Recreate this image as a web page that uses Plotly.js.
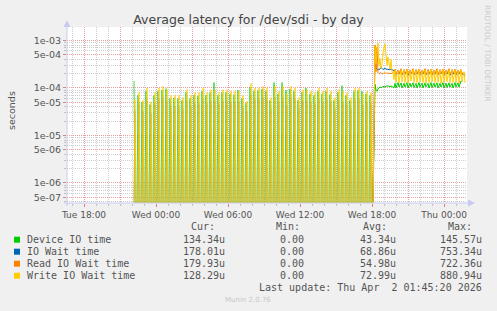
<!DOCTYPE html>
<html>
<head>
<meta charset="utf-8">
<script src="https://cdn.plot.ly/plotly-3.0.1.min.js"></script>
<style>html,body{margin:0;padding:0;background:#F0F0F0;}#chart{width:497px;height:311px;}</style>
</head>
<body>
<div id="chart"></div>
<script>
// ---------------- DATA (values in microseconds) ----------------
const seriesNames = ["Device IO time", "IO Wait time", "Read IO Wait time", "Write IO Wait time"];
const seriesColors = ["#00CC00", "#0066B3", "#FF8000", "#FFCC00"];

// Spiky period: one reading per 20 min, every 5-min sample, zero between readings
const spikyStart = "2026-03-31T22:10:00";
const sampleMinutes = 5;
const spikeEvery = 4;            // samples per spike period
const spikePhase = [0, 1, 1, 1]; // sample within period where each series is non-zero

const devicePeaks = [140,70,50,85,45,70,85,90,97,60, 62,60,55,80,60,70,68,85,70,80,
                     130,70,80,80,75,72,90,60,48,105, 85,88,95,85,55,130,75,130,90,95,
                     85,55,80,100,75,70,85,75,85,72, 55,80,112,70,55,85,88,85,75,70];
const ioWaitPeaks = [35,50,33,60,30,48,60,65,55,42, 42,42,38,56,42,48,48,60,48,55,
                     55,48,55,55,52,52,52,42,32,74, 60,60,65,60,38,65,52,65,45,65,
                     60,38,55,55,52,48,60,52,60,52, 38,56,52,48,38,60,60,45,52,48];
const readPeaks   = [30,45,30,55,28,44,55,60,50,38, 38,38,34,50,38,44,44,55,44,50,
                     50,44,50,50,47,47,47,38,29,68, 55,55,60,55,34,60,47,60,40,60,
                     55,34,50,50,47,44,55,47,55,47, 34,50,47,44,34,55,55,40,47,44];
const writePeaks  = [57,80,55,100,51,80,100,109,92,70, 70,70,63,93,70,80,80,100,80,92,
                     92,80,92,92,86,86,86,70,53,124, 100,100,109,100,63,109,86,109,75,109,
                     100,63,92,92,86,80,100,86,100,86, 63,93,86,80,63,100,100,75,86,80];

// Continuous period, every 5 minutes
const steadyStart = "2026-04-01T18:15:00";
const deviceSteady = [120,90,85,95,100,105,100,105,108,106,104,110,112,110,108,105,110,108,104,100,
  125,100,115,130,105,118,128,100,112,125,104,120,130,100,115,126,105,118,128,102,112,125,100,120,
  130,104,115,126,100,118,128,105,112,125,100,120,130,102,115,126,104,118,128,100,112,125,105,120,
  130,100,115,126,102,118,128,104,112,125,100,120,130,105,115,128,104,118,140,134];
const ioWaitSteady = [750,260,250,240,245,250,270,255,245,250,260,250,245,250,240,245,250,240,235,230,
  230,190,205,225,195,210,235,190,200,230,195,210,230,185,205,225,200,210,235,190,200,230,195,210,
  230,190,205,225,195,210,235,190,200,230,195,210,230,190,205,225,195,210,235,190,200,230,200,210,
  230,190,205,225,195,210,235,185,200,230,195,210,230,190,205,225,195,210,230,190,200,190,178];
const readSteady = [800,220,720,210,200,205,210,200,200,210,205,200,210,200,205,200,200,205,210,220,
  250,195,215,240,200,220,255,195,210,245,200,220,250,190,215,240,205,220,255,195,210,245,200,220,
  250,195,215,240,200,220,255,195,210,245,200,220,250,190,215,240,200,220,255,190,210,245,200,220,
  250,195,215,240,200,220,255,195,210,245,205,220,250,195,215,240,200,220,245,195,210,200,180];
const writeSteady = [750,320,500,880,300,420,260,300,550,780,850,500,300,450,350,250,400,220,200,150,
  240,130,190,230,130,200,240,135,180,235,130,210,240,125,190,230,140,200,245,130,180,230,130,210,
  240,135,190,235,130,200,240,125,185,230,130,210,245,135,190,230,130,200,240,130,180,235,125,210,
  240,130,190,230,135,200,240,130,185,235,130,210,240,130,190,230,125,200,240,135,180,220,128];

// Legend figures
const legendCur = ["134.34u", "178.01u", "179.93u", "128.29u"];
const legendMin = ["0.00", "0.00", "0.00", "0.00"];
const legendAvg = ["43.34u", "68.86u", "54.98u", "72.99u"];
const legendMax = ["145.57u", "753.34u", "722.36u", "880.94u"];
const lastUpdate = "Last update: Thu Apr  2 01:45:20 2026";

// Axes
const xStart = "2026-03-31 16:35:00", xEnd = "2026-04-02 01:55:00";
const xTickVals = ["2026-03-31 18:00","2026-03-31 21:00","2026-04-01 00:00","2026-04-01 03:00",
  "2026-04-01 06:00","2026-04-01 09:00","2026-04-01 12:00","2026-04-01 15:00","2026-04-01 18:00",
  "2026-04-01 21:00","2026-04-02 00:00"];
const xTickText = ["Tue 18:00","","Wed 00:00","","Wed 06:00","","Wed 12:00","","Wed 18:00","","Thu 00:00"];
const yTickVals = [1e-3, 5e-4, 1e-4, 5e-5, 1e-5, 5e-6, 1e-6, 5e-7];
const yTickText = ["1e-03","5e-04","1e-04","5e-05","1e-05","5e-06","1e-06","5e-07"];
const yLogRange = [-6.4217, -2.7175];

// ---------------- BUILD ----------------
function fmt(ms){ return new Date(ms).toISOString().slice(0,19).replace('T',' '); }
function parseUTC(s){ return Date.parse(s + "Z"); }
const yFloor = Math.pow(10, yLogRange[0]);
function toSeconds(v){ return v > 0 ? v * 1e-6 : yFloor; }

const peaksList = [devicePeaks, ioWaitPeaks, readPeaks, writePeaks];
const steadyList = [deviceSteady, ioWaitSteady, readSteady, writeSteady];
// rendering style of the spiky part (thin, partly see-through, as the dense anti-aliased original)
const spikyWidth = [1, 0.8, 0.8, 0.8];
const spikyOpacity = [0.7, 0.35, 0.45, 1];

const traces = [];
seriesNames.forEach((name, s) => {
  const xs = [], ys = [];
  const t0 = parseUTC(spikyStart);
  const nSp = peaksList[s].length * spikeEvery;
  for (let i = 0; i < nSp; i++) {
    const v = (i % spikeEvery === spikePhase[s]) ? peaksList[s][Math.floor(i / spikeEvery)] : 0;
    xs.push(fmt(t0 + i * sampleMinutes * 60000));
    ys.push(toSeconds(v));
  }
  traces.push({x: xs, y: ys, type: 'scatter', mode: 'lines', name: name, opacity: spikyOpacity[s],
          line: {color: seriesColors[s], width: spikyWidth[s]}, hoverinfo: 'skip'});
});
seriesNames.forEach((name, s) => {
  const xs = [], ys = [];
  const t0 = parseUTC(spikyStart);
  const nSp = peaksList[s].length * spikeEvery;
  xs.push(fmt(t0 + (nSp - 1) * sampleMinutes * 60000));
  ys.push(toSeconds(0));
  const t1 = parseUTC(steadyStart);
  steadyList[s].forEach((v, i) => {
    xs.push(fmt(t1 + i * sampleMinutes * 60000));
    ys.push(toSeconds(v));
  });
  traces.push({x: xs, y: ys, type: 'scatter', mode: 'lines', name: name,
          line: {color: seriesColors[s], width: 1}, hoverinfo: 'skip'});
});

// minor grid values
const yMinor = [];
for (let e = -7; e <= -3; e++) {
  [2,3,4,6,7,8,9].forEach(m => yMinor.push(m * Math.pow(10, e)));
}
const xMinor = [];
{
  const a = parseUTC("2026-03-31T17:00:00");
  for (let h = 0; h <= 32; h++) xMinor.push(fmt(a + h * 3600000));
}

// pixel helpers for decorations (plot area: x 67..467, y 27..203)
const L = 67, T = 27, W = 400, H = 176;
const px = p => (p - L) / W;
const py = p => (T + H - p) / H;

const axisCol = "#C6CAF2";
const textCol = "#555555";
const mono = "DejaVu Sans Mono, monospace";

const annotations = [];
const shapes = [];
shapes.push({type:'line', xref:'paper', yref:'paper', x0:px(67), x1:px(67), y0:py(206), y1:py(22), line:{color:axisCol, width:1}});
shapes.push({type:'line', xref:'paper', yref:'paper', x0:px(64), x1:px(470), y0:py(203), y1:py(203), line:{color:axisCol, width:1}});
shapes.push({type:'path', xref:'paper', yref:'paper', fillcolor:axisCol, line:{width:0},
  path:`M ${px(63.5)} ${py(27)} L ${px(70.5)} ${py(27)} L ${px(67)} ${py(20)} Z`});
shapes.push({type:'path', xref:'paper', yref:'paper', fillcolor:axisCol, line:{width:0},
  path:`M ${px(468)} ${py(199.5)} L ${px(468)} ${py(206.5)} L ${px(475)} ${py(203)} Z`});

const rowY = [239.7, 251.7, 263.7, 275.7];
const headers = [["Cur:",190],["Min:",275],["Avg:",362],["Max:",447]];
headers.forEach(h => annotations.push({xref:'paper', yref:'paper', x:px(h[1]), y:py(227), text:h[0],
  showarrow:false, xanchor:'left', yanchor:'middle', borderpad:0, font:{family:mono, size:10, color:textCol}}));
const colRight = [225.5, 305, 397, 482.5];
const cols = [legendCur, legendMin, legendAvg, legendMax];
seriesNames.forEach((n, i) => {
  shapes.push({type:'rect', xref:'paper', yref:'paper', x0:px(14), x1:px(20), y0:py(rowY[i]+3), y1:py(rowY[i]-3),
    fillcolor:seriesColors[i], line:{width:0}});
  annotations.push({xref:'paper', yref:'paper', x:px(26), y:py(rowY[i]), text:n, showarrow:false,
    xanchor:'left', yanchor:'middle', borderpad:0, font:{family:mono, size:10, color:textCol}});
  cols.forEach((c, j) => annotations.push({xref:'paper', yref:'paper', x:px(colRight[j]), y:py(rowY[i]), text:c[i],
    showarrow:false, xanchor:'right', yanchor:'middle', borderpad:0, font:{family:mono, size:10, color:textCol}}));
});
annotations.push({xref:'paper', yref:'paper', x:px(482.5), y:py(287.7), text:lastUpdate.replace(/  /g,' &nbsp;'),
  showarrow:false, xanchor:'right', yanchor:'middle', borderpad:0, font:{family:mono, size:10, color:textCol}});
annotations.push({xref:'paper', yref:'paper', x:px(248), y:py(300), text:"Munin 2.0.76",
  showarrow:false, xanchor:'center', yanchor:'middle', borderpad:0, font:{family:"DejaVu Sans", size:7, color:"#C8C8C8"}});
annotations.push({xref:'paper', yref:'paper', x:px(487.5), y:py(53.5), text:"RRDTOOL / TOBI OETIKER", textangle:90,
  showarrow:false, xanchor:'center', yanchor:'middle', borderpad:0, font:{family:"DejaVu Sans", size:7.5, color:"#CCCCCC"}});
annotations.push({xref:'paper', yref:'paper', x:px(11), y:py(110), text:"seconds", textangle:-90,
  showarrow:false, xanchor:'center', yanchor:'middle', borderpad:0, font:{family:"DejaVu Sans", size:9.5, color:textCol}});

const layout = {
  width: 497, height: 311,
  margin: {l: L, r: 497 - L - W, t: T, b: 311 - T - H, pad: 0},
  paper_bgcolor: "#F0F0F0", plot_bgcolor: "#FFFFFF",
  showlegend: false,
  title: {text: "Average latency for /dev/sdi - by day", x: 0.5, xref: 'container', y: 1 - 19.5/311, yref: 'container',
          xanchor: 'center', yanchor: 'middle', font: {family: "DejaVu Sans", size: 12.5, color: "#444444"}},
  xaxis: {type: 'date', range: [xStart, xEnd], tickmode: 'array', tickvals: xTickVals, ticktext: xTickText,
          showgrid: true, gridcolor: "#E8A0A0", griddash: "1px,1px", gridwidth: 1,
          ticks: 'outside', ticklen: 3, tickcolor: "#E08080", tickwidth: 1,
          minor: {tickvals: xMinor, showgrid: true, gridcolor: "#CFCFCF", griddash: "1px,1px", ticks: 'outside', ticklen: 2, tickcolor: "#C0C0C0"},
          showline: false, zeroline: false, fixedrange: true,
          tickfont: {family: "DejaVu Sans", size: 9, color: textCol}},
  yaxis: {type: 'log', range: yLogRange, tickmode: 'array', tickvals: yTickVals, ticktext: yTickText,
          showgrid: true, gridcolor: "#E8A0A0", griddash: "1px,1px", gridwidth: 1,
          ticks: 'outside', ticklen: 3, tickcolor: "#E08080",
          minor: {tickvals: yMinor, showgrid: true, gridcolor: "#CFCFCF", griddash: "1px,1px", ticks: 'outside', ticklen: 2, tickcolor: "#C0C0C0"},
          showline: false, zeroline: false, fixedrange: true,
          tickfont: {family: "DejaVu Sans", size: 9.5, color: textCol}},
  shapes: shapes,
  annotations: annotations
};

Plotly.newPlot('chart', traces, layout, {staticPlot: true, displayModeBar: false});
</script>
</body>
</html>
